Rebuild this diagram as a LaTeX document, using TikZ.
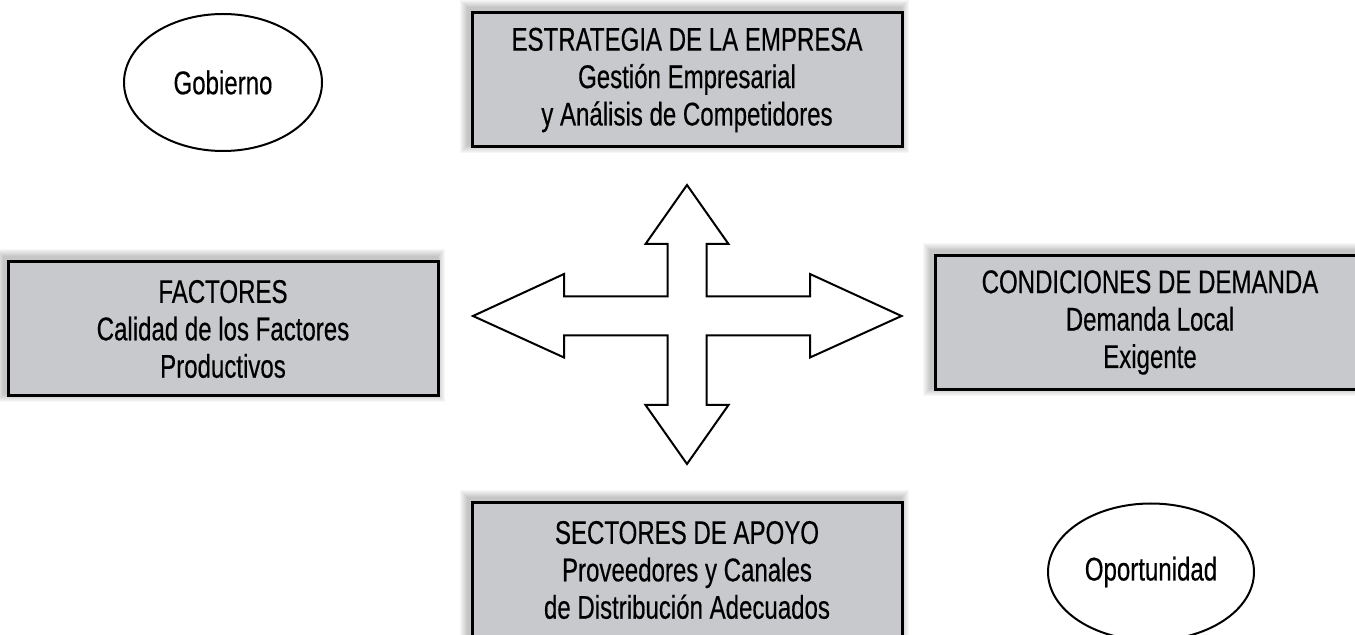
\documentclass[tikz,border=0pt]{standalone}
\usepackage{fontspec}
\setmainfont{Liberation Sans}[FakeStretch=0.733, FakeBold=0.4]
\usetikzlibrary{shapes.geometric,backgrounds}

\definecolor{boxgray}{RGB}{200,201,204}

\tikzset{
  factor/.style={draw, line width=1.5pt, fill=boxgray, rectangle,
    minimum width=215pt, minimum height=67pt, align=center,
    font=\fontsize{16.4}{18.7}\selectfont},
  agent/.style={draw, line width=1pt, ellipse,
    minimum width=99pt, minimum height=68.5pt,
    font=\fontsize{16.4}{18.7}\selectfont},
  cross/.style={draw, line width=1pt, fill=white, line join=miter}
}

\begin{document}
\begin{tikzpicture}[x=0.5pt, y=-0.5pt]
    \useasboundingbox (0,0) rectangle (1355,635);
    % the four determinants
    \node[factor] (estrategia) at (687,80) {ESTRATEGIA DE LA EMPRESA\\Gestión Empresarial\\y Análisis de Competidores};
    \node[factor] (factores) at (223,329) {FACTORES\\Calidad de los Factores\\Productivos};
    \node[factor] (demanda) at (1150,322.5) {CONDICIONES DE DEMANDA\\Demanda Local\\Exigente};
    \node[factor] (apoyo) at (687,570) {SECTORES DE APOYO\\Proveedores y Canales\\de Distribución Adecuados};
    % soft shadows behind the boxes
    \begin{scope}[on background layer]
        \foreach \n in {estrategia,factores,demanda,apoyo}
            \foreach \i in {1,...,8}
                \fill[black, opacity=0.03] ([shift={(-3-\i,-3-\i)}]\n.north west) rectangle ([shift={(-3+\i,-3+\i)}]\n.south east);
    \end{scope}
    % outside agents
    \node[agent] (gobierno) at (223,82.5) {Gobierno};
    \node[agent] (oportunidad) at (1151,572) {Oportunidad};
    % four-way arrow
    \draw[cross] (687,185) -- (728.5,244) -- (706.5,244) -- (706.5,296.5)
        -- (810,296.5) -- (810,274) -- (901.5,316) -- (810,357.5) -- (810,335.5)
        -- (706.5,335.5) -- (706.5,405) -- (728.5,405) -- (687,464)
        -- (645.5,405) -- (667.5,405) -- (667.5,335.5) -- (564,335.5)
        -- (564,357.5) -- (473,316) -- (564,274) -- (564,296.5)
        -- (667.5,296.5) -- (667.5,244) -- (645.5,244) -- cycle;
\end{tikzpicture}
\end{document}
